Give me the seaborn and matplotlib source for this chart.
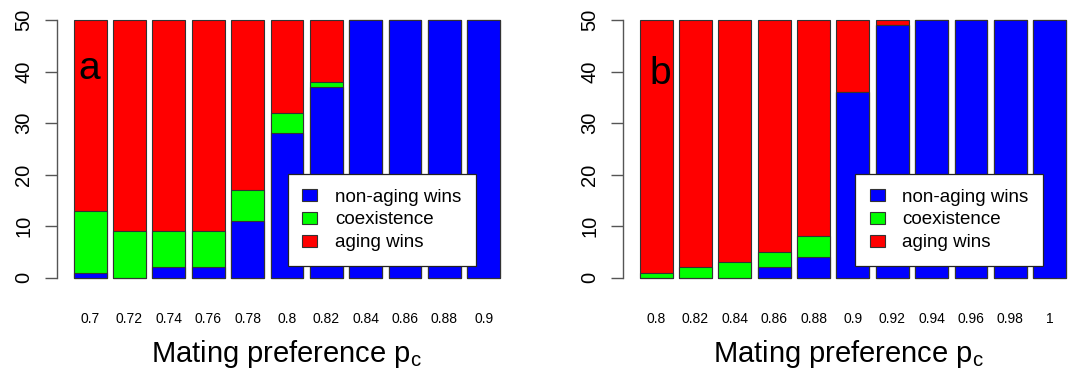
import numpy as np
import pandas as pd
import matplotlib
matplotlib.use("Agg")
import matplotlib.pyplot as plt
import seaborn as sns
from matplotlib.patches import Patch

# data (50 runs per value of p_c)
pc_a = ["0.7", "0.72", "0.74", "0.76", "0.78", "0.8", "0.82", "0.84", "0.86", "0.88", "0.9"]
nonaging_a = [1, 0, 2, 2, 11, 28, 37, 50, 50, 50, 50]
coexist_a = [12, 9, 7, 7, 6, 4, 1, 0, 0, 0, 0]
aging_a = [37, 41, 41, 41, 33, 18, 12, 0, 0, 0, 0]

pc_b = ["0.8", "0.82", "0.84", "0.86", "0.88", "0.9", "0.92", "0.94", "0.96", "0.98", "1"]
nonaging_b = [0, 0, 0, 2, 4, 36, 49, 50, 50, 50, 50]
coexist_b = [1, 2, 3, 3, 4, 0, 0, 0, 0, 0, 0]
aging_b = [49, 48, 47, 45, 42, 14, 1, 0, 0, 0, 0]

sns.set_style("white")
plt.rcParams["font.family"] = ["Liberation Sans", "DejaVu Sans"]
plt.rcParams["mathtext.default"] = "regular"
plt.rcParams["text.color"] = "black"
plt.rcParams["axes.labelcolor"] = "black"
plt.rcParams["xtick.color"] = "black"
plt.rcParams["ytick.color"] = "black"

W, H = 1074, 371
fig = plt.figure(figsize=(W / 100, H / 100), dpi=100)

def px_axes(left, right, top=9.7, bottom=288):
    return fig.add_axes([left / W, 1 - bottom / H, (right - left) / W, (bottom - top) / H])

panels = [
    (px_axes(56.7, 517.2), pc_a, nonaging_a, coexist_a, aging_a, "a", -0.29, 38.6, (287.7, 174), 10.85),
    (px_axes(622.7, 1074), pc_b, nonaging_b, coexist_b, aging_b, "b", -0.17, 37.6, (855, 174), 10.62),
]

for ax, pc, blue, green, red, letter, lx, ly, leg_xy, xr in panels:
    df = pd.DataFrame({"pc": pc, "blue": blue, "green": green, "red": red})
    df["bg"] = df["blue"] + df["green"]
    df["all"] = df["bg"] + df["red"]
    common = dict(x="pc", order=pc, ax=ax, width=1 / 1.2, saturation=1,
                  edgecolor="#333333", linewidth=0.8, errorbar=None)
    sns.barplot(data=df, y="all", color="#ff0000", **common)
    sns.barplot(data=df, y="bg", color="#00ff00", **common)
    sns.barplot(data=df, y="blue", color="#0000ff", **common)

    ax.set_xlim(-0.85, xr)
    ax.set_ylim(-2, 52)
    ax.set_yticks(np.arange(0, 51, 10))
    for s in ["top", "right", "bottom"]:
        ax.spines[s].set_visible(False)
    ax.spines["left"].set_bounds(0, 50)
    ax.spines["left"].set_color("#555555")
    ax.spines["left"].set_linewidth(1.0)
    ax.tick_params(axis="y", left=True, length=9, width=1.0, color="#555555",
                   labelcolor="black", pad=8, labelsize=14.5)
    for t in ax.get_yticklabels():
        t.set_rotation(90)
        t.set_va("center")
    ax.tick_params(axis="x", bottom=False, length=0, pad=17, labelsize=10, labelcolor="black")
    ax.set_ylabel("")
    ax.set_xlabel("Mating preference p$_c$", fontsize=21, labelpad=9, color="black")

    ax.text(lx, ly, letter, fontsize=28, ha="left", va="baseline", color="black")

    handles = [Patch(facecolor="#0000ff", edgecolor="#333333", linewidth=0.8),
               Patch(facecolor="#00ff00", edgecolor="#333333", linewidth=0.8),
               Patch(facecolor="#ff0000", edgecolor="#333333", linewidth=0.8)]
    leg = ax.legend(handles, ["non-aging wins", "coexistence", "aging wins"],
                    loc="upper left", bbox_to_anchor=(leg_xy[0] / W, 1 - leg_xy[1] / H),
                    bbox_transform=fig.transFigure, borderaxespad=0, fontsize=13.5,
                    frameon=True, fancybox=False, framealpha=1, edgecolor="#222222",
                    borderpad=0.78, labelspacing=0.31, handlelength=0.8,
                    handleheight=0.62, handletextpad=0.95)
    leg.get_frame().set_linewidth(0.9)
    for t in leg.get_texts():
        t.set_color("black")

plt.savefig("out.png", dpi=100)
